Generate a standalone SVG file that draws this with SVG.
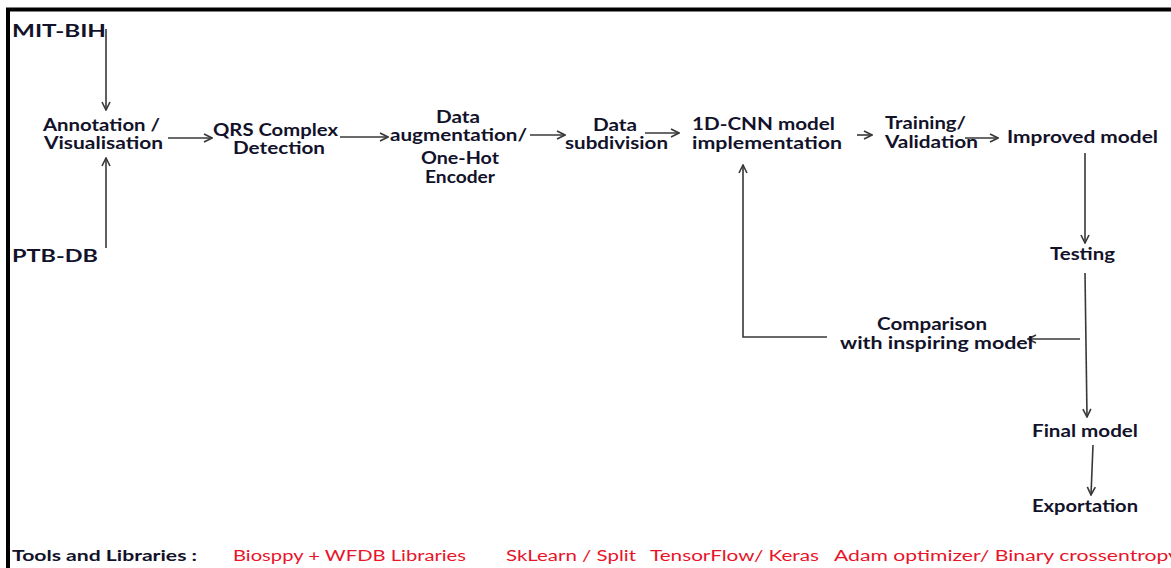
<svg xmlns="http://www.w3.org/2000/svg" width="1171" height="568" viewBox="0 0 1171 568">
<style>
.lbl{font-family:Lato,"Open Sans","Liberation Sans",sans-serif;font-weight:700;font-size:16.5px;fill:#12122a}
.tool{font-family:Lato,"Open Sans","Liberation Sans",sans-serif;font-size:15.5px}
.tt{font-weight:700;fill:#12122a}
.red{fill:#e8142a}
.c{fill:none;stroke:#383838;stroke-width:1.6}
</style>
<defs>
<marker id="ah" viewBox="0 0 10 10" markerWidth="10" markerHeight="10" markerUnits="userSpaceOnUse" refX="9" refY="5" orient="auto">
<path d="M1,1 L9,5 L1,9" fill="none" stroke="#383838" stroke-width="1.6"/>
</marker>
</defs>
<rect width="1171" height="568" fill="#fff"/>
<path d="M8 568 V9.5 H1171" fill="none" stroke="#000" stroke-width="4"/>
<g id="connectors">
<path class="c" d="M106 29 V110" marker-end="url(#ah)"/>
<path class="c" d="M106 248 V158" marker-end="url(#ah)"/>
<path class="c" d="M168 138 H212" marker-end="url(#ah)"/>
<path class="c" d="M340 137 H388" marker-end="url(#ah)"/>
<path class="c" d="M530 135 H565" marker-end="url(#ah)"/>
<path class="c" d="M645 133 H679" marker-end="url(#ah)"/>
<path class="c" d="M857 135 H872" marker-end="url(#ah)"/>
<path class="c" d="M965 138 H998" marker-end="url(#ah)"/>
<path class="c" d="M1085 153 V243" marker-end="url(#ah)"/>
<path class="c" d="M1085 273 L1087 417" marker-end="url(#ah)"/>
<path class="c" d="M1080 339 H1028" marker-end="url(#ah)"/>
<path class="c" d="M827 337 H743 V165" marker-end="url(#ah)"/>
<path class="c" d="M1093 445 L1091 495" marker-end="url(#ah)"/>
</g>
<g id="mit-bih"><text class="lbl" x="12" y="37" textLength="94" lengthAdjust="spacingAndGlyphs">MIT-BIH</text></g>
<g id="ptb-db"><text class="lbl" x="12" y="262" textLength="86" lengthAdjust="spacingAndGlyphs">PTB-DB</text></g>
<g id="annotation">
<text class="lbl" x="43" y="131" textLength="117" lengthAdjust="spacingAndGlyphs">Annotation /</text>
<text class="lbl" x="44" y="149" textLength="119" lengthAdjust="spacingAndGlyphs">Visualisation</text>
</g>
<g id="qrs">
<text class="lbl" x="213" y="136" textLength="125" lengthAdjust="spacingAndGlyphs">QRS Complex</text>
<text class="lbl" x="233" y="154" textLength="92" lengthAdjust="spacingAndGlyphs">Detection</text>
</g>
<g id="augmentation">
<text class="lbl" x="436" y="123" textLength="44" lengthAdjust="spacingAndGlyphs">Data</text>
<text class="lbl" x="390" y="141" textLength="137" lengthAdjust="spacingAndGlyphs">augmentation/</text>
<text class="lbl" x="421" y="164" textLength="78" lengthAdjust="spacingAndGlyphs">One-Hot</text>
<text class="lbl" x="425" y="183" textLength="70" lengthAdjust="spacingAndGlyphs">Encoder</text>
</g>
<g id="subdivision">
<text class="lbl" x="593" y="131" textLength="44" lengthAdjust="spacingAndGlyphs">Data</text>
<text class="lbl" x="565" y="149" textLength="103" lengthAdjust="spacingAndGlyphs">subdivision</text>
</g>
<g id="cnn">
<text class="lbl" x="692" y="130" textLength="143" lengthAdjust="spacingAndGlyphs">1D-CNN model</text>
<text class="lbl" x="692" y="149" textLength="150" lengthAdjust="spacingAndGlyphs">implementation</text>
</g>
<g id="training">
<text class="lbl" x="885" y="129" textLength="81" lengthAdjust="spacingAndGlyphs">Training/</text>
<text class="lbl" x="885" y="148" textLength="93" lengthAdjust="spacingAndGlyphs">Validation</text>
</g>
<g id="improved"><text class="lbl" x="1007" y="143" textLength="151" lengthAdjust="spacingAndGlyphs">Improved model</text></g>
<g id="testing"><text class="lbl" x="1050" y="260" textLength="65" lengthAdjust="spacingAndGlyphs">Testing</text></g>
<g id="comparison">
<text class="lbl" x="877" y="330" textLength="110" lengthAdjust="spacingAndGlyphs">Comparison</text>
<text class="lbl" x="840" y="349" textLength="193" lengthAdjust="spacingAndGlyphs">with inspiring model</text>
</g>
<g id="final"><text class="lbl" x="1032" y="437" textLength="106" lengthAdjust="spacingAndGlyphs">Final model</text></g>
<g id="exportation"><text class="lbl" x="1032" y="512" textLength="106" lengthAdjust="spacingAndGlyphs">Exportation</text></g>
<g id="tools">
<text class="tool tt" x="12" y="561" textLength="185" lengthAdjust="spacingAndGlyphs">Tools and Libraries :</text>
<text class="tool red" x="233" y="561" textLength="233" lengthAdjust="spacingAndGlyphs">Biosppy + WFDB Libraries</text>
<text class="tool red" x="506" y="561" textLength="130" lengthAdjust="spacingAndGlyphs">SkLearn / Split</text>
<text class="tool red" x="650" y="561" textLength="169" lengthAdjust="spacingAndGlyphs">TensorFlow/ Keras</text>
<text class="tool red" x="834" y="561" textLength="345" lengthAdjust="spacingAndGlyphs">Adam optimizer/ Binary crossentropy</text>
</g>
</svg>
